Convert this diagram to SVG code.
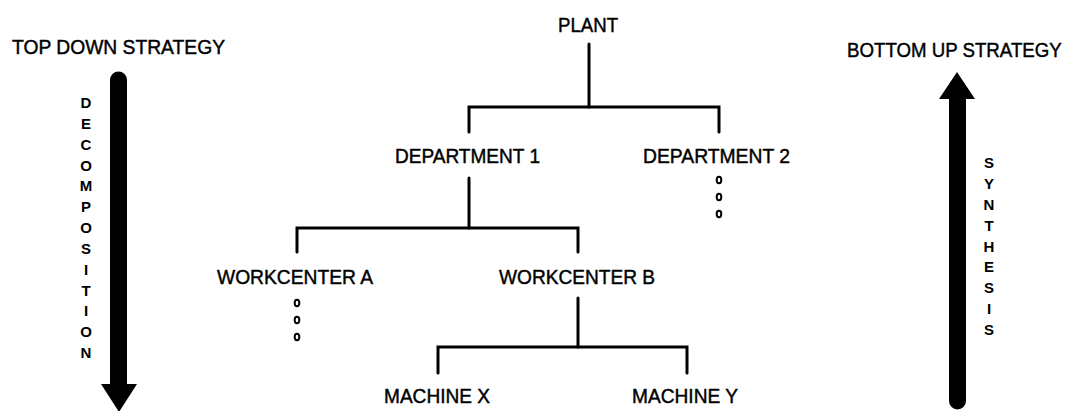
<svg xmlns="http://www.w3.org/2000/svg" width="1073" height="411" viewBox="0 0 1073 411">
<style>
.lbl{font-family:"Liberation Sans",Arial,sans-serif;font-size:21px;fill:#000;stroke:#000;stroke-width:0.45;}
.v{font-family:"Liberation Sans",Arial,sans-serif;font-size:15px;font-weight:bold;fill:#000;text-anchor:middle;}
.ln{fill:none;stroke:#000;stroke-width:3;stroke-linecap:round;stroke-linejoin:miter;}
.dot{fill:none;stroke:#000;stroke-width:2;}
</style>
<rect width="1073" height="411" fill="#fff"/>
<g id="top-down">
<text class="lbl" x="12" y="54" textLength="213" lengthAdjust="spacingAndGlyphs">TOP DOWN STRATEGY</text>
<path d="M110,80 a8.5,8.5 0 0 1 17,0 V384 H137 L119,412 L101,384 H110 Z" fill="#000"/>
<text class="v"><tspan x="86" y="108">D</tspan><tspan x="86" y="128.8">E</tspan><tspan x="86" y="149.7">C</tspan><tspan x="86" y="170.5">O</tspan><tspan x="86" y="191.3">M</tspan><tspan x="86" y="212.2">P</tspan><tspan x="86" y="233">O</tspan><tspan x="86" y="253.8">S</tspan><tspan x="86" y="274.7">I</tspan><tspan x="86" y="295.5">T</tspan><tspan x="86" y="316.3">I</tspan><tspan x="86" y="337.2">O</tspan><tspan x="86" y="358">N</tspan></text>
</g>
<g id="bottom-up">
<text class="lbl" transform="matrix(0.89,0,0,1,847,57)" x="0" y="0">BOTTOM UP STRATEGY</text>
<path d="M949,401 a8.5,8.5 0 0 0 17,0 V99 H975 L957,72 L939,99 H949 Z" fill="#000"/>
<text class="v"><tspan x="989" y="168">S</tspan><tspan x="989" y="188.9">Y</tspan><tspan x="989" y="209.8">N</tspan><tspan x="989" y="230.6">T</tspan><tspan x="989" y="251.5">H</tspan><tspan x="989" y="272.4">E</tspan><tspan x="989" y="293.3">S</tspan><tspan x="989" y="314.1">I</tspan><tspan x="989" y="335">S</tspan></text>
</g>
<g id="connectors">
<path class="ln" d="M589,44 V107"/>
<path class="ln" d="M469,132 V107 H719 V132"/>
<path class="ln" d="M469,178 V228"/>
<path class="ln" d="M297,252 V228 H578 V252"/>
<path class="ln" d="M578,298 V347"/>
<path class="ln" d="M438,373 V347 H687 V373"/>
</g>
<g id="plant"><text class="lbl" x="558" y="32" textLength="60" lengthAdjust="spacingAndGlyphs">PLANT</text></g>
<g id="department-1"><text class="lbl" x="395" y="163" textLength="145" lengthAdjust="spacingAndGlyphs">DEPARTMENT 1</text></g>
<g id="department-2"><text class="lbl" x="643" y="163" textLength="147" lengthAdjust="spacingAndGlyphs">DEPARTMENT 2</text>
<ellipse class="dot" cx="719" cy="180" rx="2.3" ry="3.2"/><ellipse class="dot" cx="719" cy="197" rx="2.3" ry="3.2"/><ellipse class="dot" cx="719" cy="214" rx="2.3" ry="3.2"/></g>
<g id="workcenter-a"><text class="lbl" x="217" y="284" textLength="156" lengthAdjust="spacingAndGlyphs">WORKCENTER A</text>
<ellipse class="dot" cx="297" cy="303" rx="2.3" ry="3.2"/><ellipse class="dot" cx="297" cy="320" rx="2.3" ry="3.2"/><ellipse class="dot" cx="297" cy="337" rx="2.3" ry="3.2"/></g>
<g id="workcenter-b"><text class="lbl" x="499" y="284" textLength="156" lengthAdjust="spacingAndGlyphs">WORKCENTER B</text></g>
<g id="machine-x"><text class="lbl" x="384" y="403" textLength="106" lengthAdjust="spacingAndGlyphs">MACHINE X</text></g>
<g id="machine-y"><text class="lbl" x="632" y="403" textLength="106" lengthAdjust="spacingAndGlyphs">MACHINE Y</text></g>
</svg>
